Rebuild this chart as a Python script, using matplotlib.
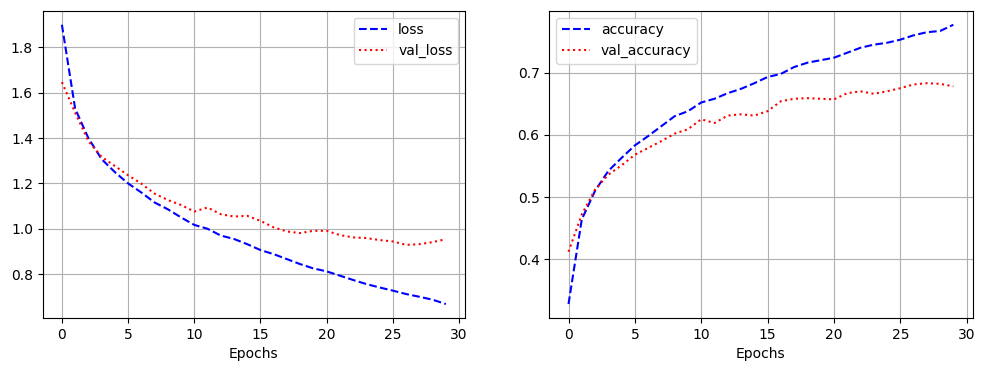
from matplotlib import pyplot as plt
import numpy as np

# training history
epochs = list(range(30))
loss = [1.90, 1.53, 1.40, 1.307, 1.25, 1.20, 1.16, 1.116, 1.086, 1.05,
        1.017, 1.00, 0.97, 0.955, 0.932, 0.906, 0.888, 0.866, 0.844, 0.825,
        0.812, 0.793, 0.774, 0.756, 0.741, 0.727, 0.712, 0.70, 0.687, 0.668]
val_loss = [1.647, 1.512, 1.387, 1.317, 1.277, 1.236, 1.199, 1.155, 1.127, 1.105,
            1.076, 1.094, 1.064, 1.054, 1.057, 1.035, 1.006, 0.988, 0.981, 0.991,
            0.991, 0.972, 0.962, 0.959, 0.950, 0.944, 0.929, 0.932, 0.941, 0.954]
accuracy = [0.328, 0.464, 0.510, 0.542, 0.563, 0.583, 0.598, 0.614, 0.630, 0.638,
            0.652, 0.658, 0.667, 0.674, 0.683, 0.693, 0.698, 0.709, 0.716, 0.720,
            0.724, 0.732, 0.740, 0.745, 0.748, 0.753, 0.760, 0.765, 0.767, 0.777]
val_accuracy = [0.412, 0.472, 0.512, 0.536, 0.551, 0.568, 0.579, 0.590, 0.602, 0.609,
                0.625, 0.619, 0.631, 0.633, 0.631, 0.638, 0.654, 0.658, 0.659, 0.658,
                0.657, 0.667, 0.670, 0.666, 0.670, 0.675, 0.681, 0.683, 0.682, 0.678]

fig = plt.figure(figsize=(9.84, 3.71), dpi=100)
ax1 = fig.add_axes([0.0434, 0.1429, 0.4292, 0.828])
ax2 = fig.add_axes([0.5582, 0.1429, 0.4302, 0.828])

ax1.plot(epochs, loss, 'b--', label='loss')
ax1.plot(epochs, val_loss, 'r:', label='val_loss')
ax1.set_xlabel('Epochs')
ax1.grid(True)
ax1.legend(loc='upper right')

ax2.plot(epochs, accuracy, 'b--', label='accuracy')
ax2.plot(epochs, val_accuracy, 'r:', label='val_accuracy')
ax2.set_xlabel('Epochs')
ax2.grid(True)
ax2.legend(loc='upper left')

fig.savefig('out.png', dpi=100)
